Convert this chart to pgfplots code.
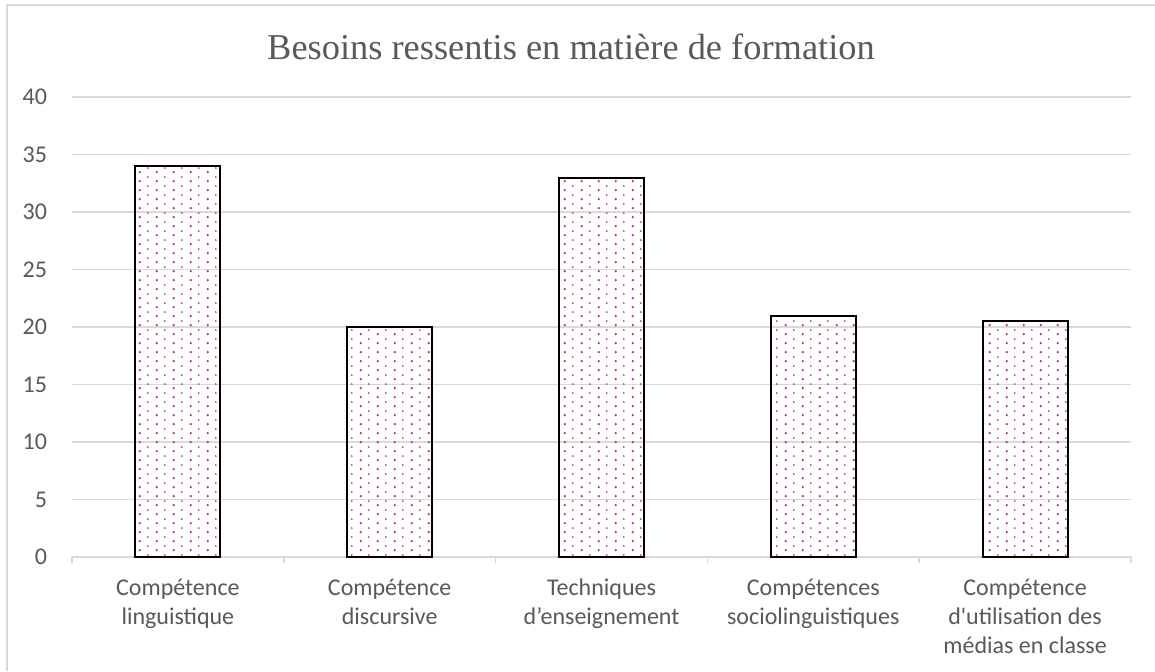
\documentclass[border=0pt]{standalone}
\usepackage{pgfplots}
\pgfplotsset{compat=1.18}
\usetikzlibrary{patterns}
\usepackage{fontspec}
\setmainfont{Carlito}
\newfontfamily\calib{Carlito}
\newfontfamily\titlefont{Liberation Serif}
\definecolor{gridc}{RGB}{217,217,217}
\definecolor{txt}{RGB}{89,89,89}
\definecolor{dotc}{RGB}{200,50,50}
\pgfdeclarepatternformonly{reddots}{\pgfpointorigin}{\pgfpoint{8.5pt}{4.25pt}}{\pgfpoint{8.5pt}{4.25pt}}{%
  \pgfpathcircle{\pgfpoint{2pt}{1pt}}{0.65pt}%
  \pgfpathcircle{\pgfpoint{6.25pt}{3.125pt}}{0.5pt}%
  \pgfusepath{fill}}
\begin{document}
\begin{tikzpicture}[x=1pt,y=1pt]
\useasboundingbox (-36,278.5) rectangle (541.5,-57);
\fill[white] (-36,278.5) rectangle (541.5,-57);
\draw[gridc, line width=1pt] (-32.5,-57) -- (-32.5,276) -- (541.5,276);
\node[font=\titlefont\fontsize{18.2}{22}\selectfont, text=txt, anchor=base, inner sep=0pt] at (249.5,249) {Besoins ressentis en matière de formation};
\begin{axis}[
  at={(0,0)}, anchor=south west,
  scale only axis, width=529.5pt, height=230pt,
  xmin=-0.5, xmax=4.5, ymin=0, ymax=40,
  ytick={0,5,...,40},
  xtick={0,1,2,3,4},
  xticklabels={{Compétence\\linguistique},{Compétence\\discursive},{\vphantom{é}Techniques\\d’enseignement},{Compétences\\sociolinguistiques},{Compétence\\d'utilisation des\\médias en classe}},
  minor xtick={-0.5,0.5,1.5,2.5,3.5,4.5},
  xtick pos=lower, ytick pos=left,
  tick align=outside,
  major tick length=0pt, minor tick length=3pt,
  minor x tick style={gridc, line width=0.75pt},
  ymajorgrids,
  major grid style={gridc, line width=0.75pt},
  axis line style={draw=none},
  /pgf/number format/assume math mode=true,
  yticklabel style={font=\calib\fontsize{12}{14.5}\selectfont, text=txt, xshift=-9pt},
  xticklabel style={font=\calib\fontsize{12}{14.5}\selectfont, text=txt, align=center, anchor=north, yshift=-7.5pt},
  ybar, bar width=42.5pt,
]
\addplot[ybar, draw=black, line width=1pt, pattern=reddots, pattern color=dotc]
  coordinates {(0,34) (1,20) (2,33) (3,21) (4,20.5)};
\end{axis}
\end{tikzpicture}
\end{document}
